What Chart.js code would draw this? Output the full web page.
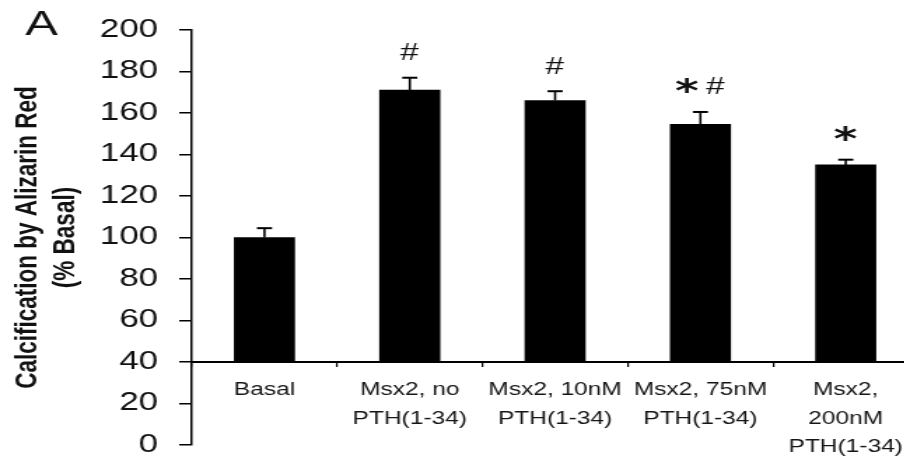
<!DOCTYPE html>
<html>
<head>
<meta charset="utf-8">
<title>Calcification by Alizarin Red</title>
<script src="https://cdn.jsdelivr.net/npm/chart.js@4.4.1/dist/chart.umd.min.js"></script>
<style>
  html, body { margin: 0; padding: 0; background: #fff; overflow: hidden; width: 904px; height: 461px; }
  /* the figure is laid out narrow and widened horizontally */
  #frame { position: absolute; left: 0; top: 0; width: 658px; height: 461px; transform: scaleX(1.4); transform-origin: 0 0; }
  canvas { display: block; }
</style>
</head>
<body>
<div id="frame"><canvas id="chart" width="658" height="461"></canvas></div>
<script>
// Groups and measured calcification (% of basal), with SEM
const categories = [
  'Basal',
  ['Msx2, no', 'PTH(1-34)'],
  ['Msx2, 10nM', 'PTH(1-34)'],
  ['Msx2, 75nM', 'PTH(1-34)'],
  ['Msx2,', '200nM', 'PTH(1-34)']
];
const calcification = [100, 171, 166, 154.5, 135];
const sem = [4.5, 6, 4.5, 6, 2.5];
const significance = ['', '#', '#', '*#', '*'];
const yMin = 0;
const yMax = 200;
const yStep = 20;
const axisCross = 40;
const yTitle = ['Calcification by Alizarin Red', '(% Basal)'];
const panelLetter = 'A';

const FONT = '"Liberation Sans", Arial, sans-serif';
const INK = '#111';

// Upward SEM whiskers, significance marks and the panel letter
const overlay = {
  id: 'overlay',
  afterDatasetsDraw(chart) {
    const { ctx, scales: { x, y } } = chart;
    ctx.save();
    ctx.strokeStyle = '#000';
    calcification.forEach((v, i) => {
      const px = x.getPixelForValue(i);
      const barTop = y.getPixelForValue(v);
      const errTop = y.getPixelForValue(v + sem[i]);
      ctx.lineWidth = 1.6;
      ctx.beginPath();
      ctx.moveTo(px, barTop);
      ctx.lineTo(px, errTop);
      ctx.stroke();
      ctx.lineWidth = 2;
      ctx.beginPath();
      ctx.moveTo(px - 5.4, errTop);
      ctx.lineTo(px + 5.4, errTop);
      ctx.stroke();
    });

    ctx.fillStyle = INK;
    significance.forEach((mark, i) => {
      if (!mark) return;
      const cx = x.getPixelForValue(i);
      const cy = y.getPixelForValue(calcification[i] + sem[i]) - 26;
      const gap = 5;
      const glyphs = [...mark].map(ch => ({
        ch,
        font: ch === '*' ? 'bold 32px "DejaVu Sans"' : '24px ' + FONT
      }));
      let total = 0;
      glyphs.forEach(g => {
        ctx.font = g.font;
        const m = ctx.measureText(g.ch);
        g.left = m.actualBoundingBoxLeft;
        g.w = m.actualBoundingBoxLeft + m.actualBoundingBoxRight;
        g.asc = m.actualBoundingBoxAscent;
        g.desc = m.actualBoundingBoxDescent;
        total += g.w;
      });
      total += gap * (glyphs.length - 1);
      let gx = cx - total / 2;
      ctx.textAlign = 'left';
      ctx.textBaseline = 'alphabetic';
      glyphs.forEach(g => {
        ctx.font = g.font;
        ctx.fillText(g.ch, gx + g.left, cy + (g.asc - g.desc) / 2);
        gx += g.w + gap;
      });
    });

    ctx.font = '35px ' + FONT;
    ctx.textAlign = 'left';
    ctx.textBaseline = 'alphabetic';
    ctx.fillText(panelLetter, 18, 35);
    ctx.restore();
  }
};

new Chart(document.getElementById('chart'), {
  type: 'bar',
  data: {
    labels: categories,
    datasets: [{
      data: calcification,
      base: axisCross,
      backgroundColor: '#000',
      borderWidth: 0,
      barThickness: 43
    }]
  },
  options: {
    responsive: false,
    animation: false,
    devicePixelRatio: 1,
    layout: { padding: { top: 30, bottom: 16, left: 0, right: 2 } },
    plugins: {
      legend: { display: false },
      tooltip: { enabled: false }
    },
    scales: {
      x: {
        position: { y: axisCross },
        offset: true,
        grid: {
          display: true,
          drawOnChartArea: false,
          offset: true,
          tickLength: 4,
          color: '#000',
          lineWidth: 1.2
        },
        border: { display: true, color: '#000', width: 2 },
        ticks: {
          autoSkip: false,
          maxRotation: 0,
          minRotation: 0,
          padding: 10,
          color: '#151515',
          font: { family: FONT, size: 17.5, lineHeight: 1.63 }
        }
      },
      y: {
        min: yMin,
        max: yMax,
        ticks: {
          stepSize: yStep,
          padding: 15,
          color: INK,
          font: { family: FONT, size: 25 }
        },
        grid: {
          drawOnChartArea: false,
          tickLength: 9,
          color: '#000',
          lineWidth: 1.5
        },
        border: { color: '#000', width: 1.5 },
        title: {
          display: true,
          text: yTitle,
          color: INK,
          font: { family: FONT, size: 22.5, weight: 'bold', lineHeight: 1.2 },
          padding: { top: 6, bottom: 0 }
        },
        afterFit(scale) {
          scale.width = 137;
          scale.paddingTop = 0;
          scale.paddingBottom = 0;
        }
      }
    }
  },
  plugins: [overlay]
});
</script>
</body>
</html>
